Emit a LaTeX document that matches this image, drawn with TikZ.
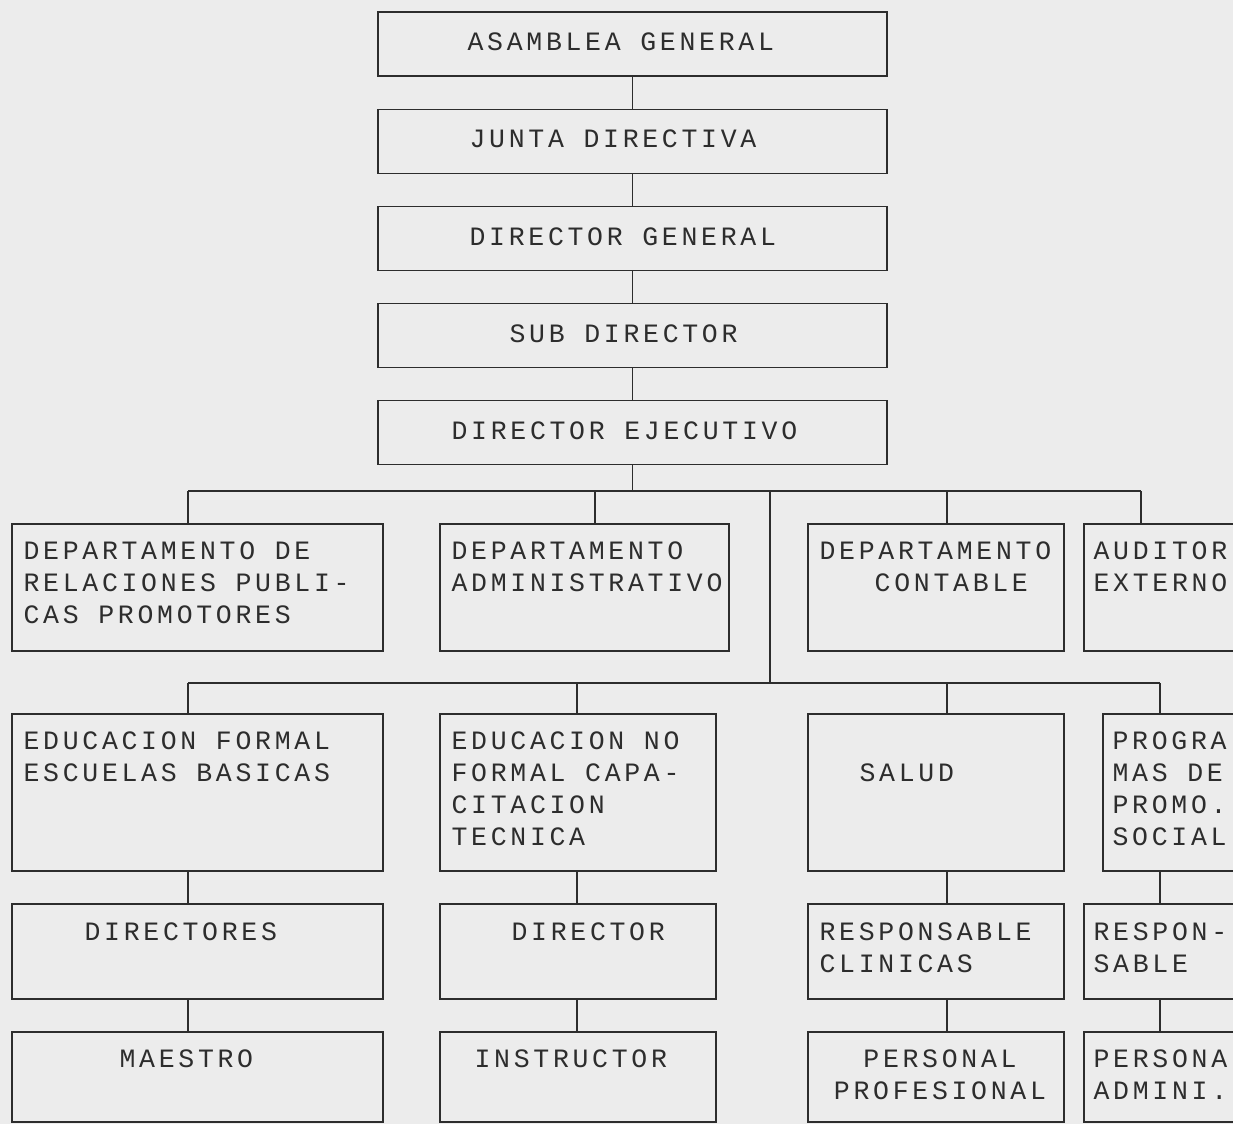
\documentclass[tikz,border=0pt]{standalone}
\usepackage{fontspec}
\setmonofont[LetterSpace=14]{Liberation Mono}
\usepackage{xcolor}
\usetikzlibrary{positioning}
\definecolor{paper}{RGB}{236,236,236}
\definecolor{ink}{RGB}{45,45,45}

\begin{document}
\begin{tikzpicture}[
  x=1pt, y=-1pt,
  node distance=32pt,
  box/.style={draw=ink, line width=1.2pt, inner sep=0pt, minimum height=64pt},
  topbox/.style={box, minimum width=509pt},
  txt/.style={font=\ttfamily\fontsize{26.5}{32}\selectfont, text=ink,
              inner sep=0pt, align=left},
  link/.style={draw=ink, line width=1.2pt}
]
\useasboundingbox (0,0) rectangle (1233,1124);
\fill[paper] (0,0) rectangle (1233,1124);
\clip (0,0) rectangle (1233,1124);

% top column
\node[topbox] (asam) at (632.5,44) {};
\node[topbox, below=of asam] (junta) {};
\node[topbox, below=of junta] (dirG) {};
\node[topbox, below=of dirG] (sub) {};
\node[topbox, below=of sub] (dirE) {};
\node[txt, anchor=west] (asamt) at ([xshift=90pt,yshift=2pt]asam.west) {ASAMBLEA GENERAL};
\node[txt, anchor=west] (juntat) at ([xshift=92pt,yshift=2pt]junta.west) {JUNTA DIRECTIVA};
\node[txt, anchor=west] (dirGt) at ([xshift=92pt,yshift=2pt]dirG.west) {DIRECTOR GENERAL};
\node[txt, anchor=west] (subt) at ([xshift=132pt,yshift=2pt]sub.west) {SUB DIRECTOR};
\node[txt, anchor=west] (dirEt) at ([xshift=74pt,yshift=2pt]dirE.west) {DIRECTOR EJECUTIVO};

% departments
\node[box, minimum width=371pt, minimum height=127pt] (relpub) at (197.5,587.5) {};
\node[box, minimum width=289pt, minimum height=127pt] (admin) at (584.5,587.5) {};
\node[box, minimum width=256pt, minimum height=127pt] (contab) at (936,587.5) {};
\node[box, minimum width=176pt, minimum height=127pt] (audit) at (1172,587.5) {};
\node[txt, anchor=north west] (relpubt) at ([shift={(12,18)}]relpub.north west)
  {DEPARTAMENTO DE\\RELACIONES PUBLI-\\CAS PROMOTORES};
\node[txt, anchor=north west] (admint) at ([shift={(12,18)}]admin.north west)
  {DEPARTAMENTO\\ADMINISTRATIVO};
\node[txt, anchor=north west] (contabt) at ([shift={(12,18)}]contab.north west)
  {DEPARTAMENTO\\\phantom{XXX}CONTABLE};
\node[txt, anchor=north west] (auditt) at ([shift={(10,18)}]audit.north west)
  {AUDITOR\\EXTERNO};

% programmes
\node[box, minimum width=371pt, minimum height=157pt] (edform) at (197.5,792.5) {};
\node[box, minimum width=276pt, minimum height=157pt] (ednoform) at (578,792.5) {};
\node[box, minimum width=256pt, minimum height=157pt] (salud) at (936,792.5) {};
\node[box, minimum width=157pt, minimum height=157pt] (promo) at (1181.5,792.5) {};
\node[txt, anchor=north west] (edformt) at ([shift={(12,18)}]edform.north west)
  {EDUCACION FORMAL\\ESCUELAS BASICAS};
\node[txt, anchor=north west] (ednoformt) at ([shift={(12,18)}]ednoform.north west)
  {EDUCACION NO\\FORMAL CAPA-\\CITACION\\TECNICA};
\node[txt, anchor=north west] (saludt) at ([shift={(52,50)}]salud.north west) {SALUD};
\node[txt, anchor=north west] (promot) at ([shift={(10,18)}]promo.north west)
  {PROGRA\\MAS DE\\PROMO.\\SOCIAL};

% heads
\node[box, minimum width=371pt, minimum height=95pt] (dires) at (197.5,951.5) {};
\node[box, minimum width=276pt, minimum height=95pt] (dirnf) at (578,951.5) {};
\node[box, minimum width=256pt, minimum height=95pt] (respcl) at (936,951.5) {};
\node[box, minimum width=176pt, minimum height=95pt] (respps) at (1172,951.5) {};
\node[txt, anchor=north west] (direst) at ([shift={(73,19)}]dires.north west) {DIRECTORES};
\node[txt, anchor=north west] (dirnft) at ([shift={(72,19)}]dirnf.north west) {DIRECTOR};
\node[txt, anchor=north west] (respclt) at ([shift={(12,19)}]respcl.north west)
  {RESPONSABLE\\CLINICAS};
\node[txt, anchor=north west] (resppst) at ([shift={(10,19)}]respps.north west)
  {RESPON-\\SABLE};

% staff
\node[box, minimum width=371pt, minimum height=90pt] (maestro) at (197.5,1077) {};
\node[box, minimum width=276pt, minimum height=90pt] (instr) at (578,1077) {};
\node[box, minimum width=256pt, minimum height=90pt] (persprof) at (936,1077) {};
\node[box, minimum width=176pt, minimum height=90pt] (persadm) at (1172,1077) {};
\node[txt, anchor=north west] (maestrot) at ([shift={(108,18)}]maestro.north west) {MAESTRO};
\node[txt, anchor=north west] (instrt) at ([shift={(35,18)}]instr.north west) {INSTRUCTOR};
\node[txt, anchor=north, align=center] (persproft) at ([shift={(4,18)}]persprof.north)
  {PERSONAL\\PROFESIONAL};
\node[txt, anchor=north west] (persadmt) at ([shift={(10,18)}]persadm.north west)
  {PERSONA\\ADMINI.};

% connectors
\draw[link] (asam) -- (junta);
\draw[link] (junta) -- (dirG);
\draw[link] (dirG) -- (sub);
\draw[link] (sub) -- (dirE);

\coordinate (bus1) at (632.5,491);
\coordinate (t1) at (188,491);
\coordinate (t2) at (595,491);
\coordinate (t3) at (947,491);
\coordinate (t4) at (1141,491);
\coordinate (t5) at (770,491);
\draw[link] (dirE) -- (bus1);
\draw[link] (t1) -- (t4);
\draw[link] (t1) -- (t1 |- relpub.north);
\draw[link] (t2) -- (t2 |- admin.north);
\draw[link] (t3) -- (t3 |- contab.north);
\draw[link] (t4) -- (t4 |- audit.north);

\coordinate (u0) at (770,683);
\coordinate (u1) at (188,683);
\coordinate (u2) at (577,683);
\coordinate (u3) at (947,683);
\coordinate (u4) at (1160,683);
\draw[link] (t5) -- (u0);
\draw[link] (u1) -- (u4);
\draw[link] (u1) -- (u1 |- edform.north);
\draw[link] (u2) -- (u2 |- ednoform.north);
\draw[link] (u3) -- (u3 |- salud.north);
\draw[link] (u4) -- (u4 |- promo.north);

\draw[link] (u1 |- edform.south) -- (u1 |- dires.north);
\draw[link] (u2 |- ednoform.south) -- (u2 |- dirnf.north);
\draw[link] (u3 |- salud.south) -- (u3 |- respcl.north);
\draw[link] (u4 |- promo.south) -- (u4 |- respps.north);

\draw[link] (u1 |- dires.south) -- (u1 |- maestro.north);
\draw[link] (u2 |- dirnf.south) -- (u2 |- instr.north);
\draw[link] (u3 |- respcl.south) -- (u3 |- persprof.north);
\draw[link] (u4 |- respps.south) -- (u4 |- persadm.north);
\end{tikzpicture}
\end{document}
